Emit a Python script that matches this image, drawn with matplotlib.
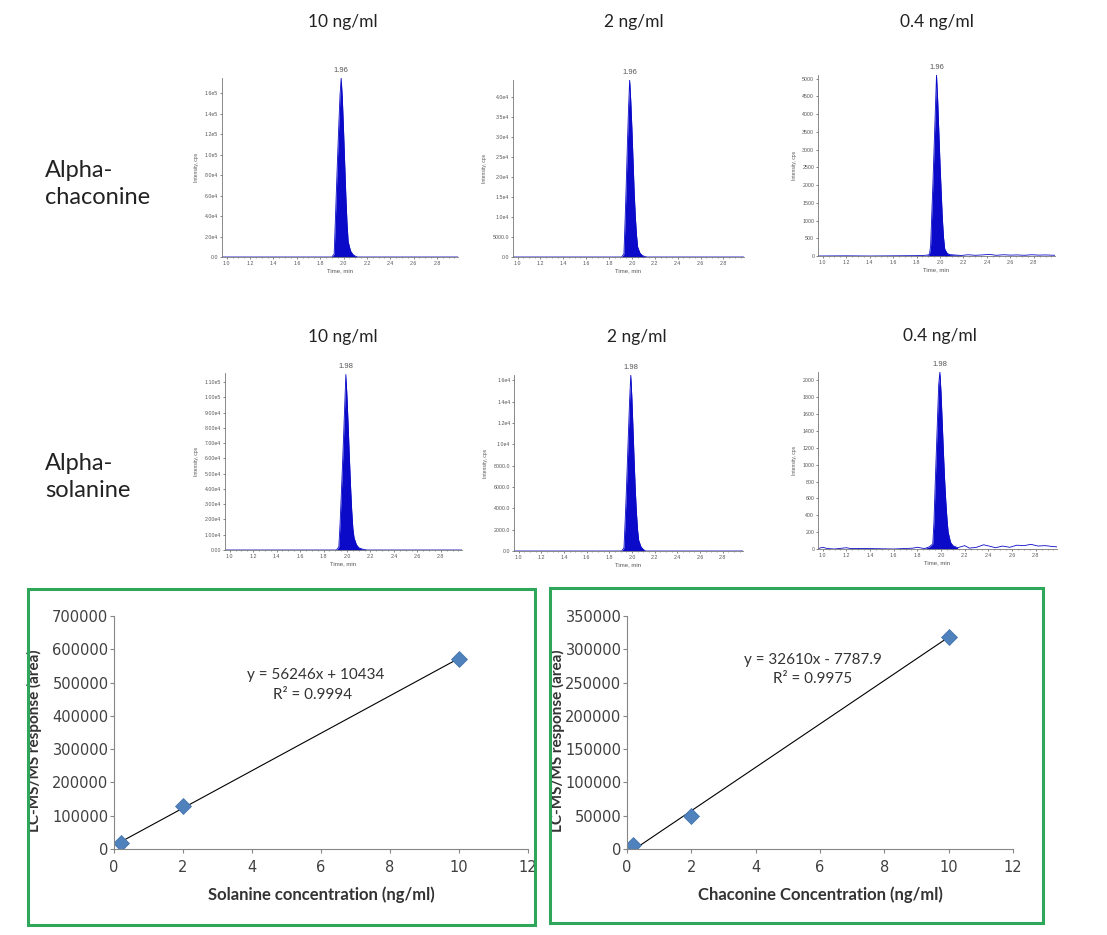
import numpy as np
import matplotlib
matplotlib.use("Agg")
import matplotlib.pyplot as plt
from matplotlib.patches import Rectangle
from matplotlib.ticker import FixedLocator, FixedFormatter, MultipleLocator

# ---- data -------------------------------------------------------------
conc_labels = ["10 ng/ml", "2 ng/ml", "0.4 ng/ml"]
row_labels = ["Alpha-\nchaconine", "Alpha-\nsolanine"]
peak_labels = ["1.96", "1.98"]

# chromatograms (time in min, intensity in cps)
cha10_t = [0.96, 1.90, 1.92, 1.93, 1.94, 1.95, 1.96, 1.97, 1.98, 1.99, 2.00, 2.01, 2.02, 2.03, 2.04, 2.06, 2.08, 2.10, 2.12, 2.98]
cha10_y = [0, 0, 3000, 35000, 68000, 100000, 130000, 158000, 175000, 155000, 125000, 92000, 60000, 33000, 15000, 6000, 2500, 900, 0, 0]
cha2_t = [0.96, 1.91, 1.93, 1.94, 1.95, 1.96, 1.97, 1.98, 1.99, 2.00, 2.01, 2.02, 2.03, 2.04, 2.05, 2.07, 2.09, 2.11, 2.13, 2.98]
cha2_y = [0, 0, 800, 9000, 18000, 28000, 37000, 44300, 39000, 32000, 24000, 16000, 10000, 5500, 2500, 1000, 400, 150, 0, 0]
cha04_t = [0.96, 1.20, 1.40, 1.80, 1.88, 1.91, 1.92, 1.93, 1.94, 1.95, 1.96, 1.97, 1.98, 1.99, 2.00, 2.01, 2.02, 2.03, 2.04, 2.06,
           2.08, 2.12, 2.18, 2.24, 2.30, 2.36, 2.42, 2.48, 2.54, 2.60, 2.66, 2.72, 2.78, 2.84, 2.90, 2.98]
cha04_y = [0, 5, 0, 10, 20, 40, 300, 1200, 2100, 3100, 4100, 5100, 4400, 3500, 2600, 1800, 1050, 520, 200, 80,
           40, 30, 15, 35, 20, 30, 45, 20, 35, 25, 30, 20, 35, 25, 30, 20]
sol10_t = [0.96, 1.91, 1.93, 1.94, 1.95, 1.96, 1.97, 1.98, 1.99, 2.00, 2.01, 2.02, 2.03, 2.04, 2.05, 2.06, 2.08, 2.10, 2.13, 2.17, 2.98]
sol10_y = [0, 0, 2000, 16000, 34000, 53000, 73000, 94000, 115000, 100000, 81000, 61000, 42000, 26000, 14000, 8000, 3500, 1500, 600, 0, 0]
sol2_t = [0.96, 1.91, 1.93, 1.94, 1.95, 1.96, 1.97, 1.98, 1.99, 2.00, 2.01, 2.02, 2.03, 2.04, 2.05, 2.06, 2.08, 2.10, 2.12, 2.98]
sol2_y = [0, 0, 300, 2700, 5300, 8300, 11300, 14200, 16500, 14300, 11400, 8400, 5700, 3600, 2000, 1000, 400, 150, 0, 0]
sol04_t = [0.96, 1.00, 1.04, 1.10, 1.20, 1.24, 1.40, 1.60, 1.76, 1.80, 1.86, 1.90, 1.93, 1.94, 1.95, 1.96, 1.97, 1.98, 1.99, 2.00,
           2.01, 2.02, 2.03, 2.04, 2.05, 2.06, 2.08, 2.10, 2.14, 2.20, 2.24, 2.30, 2.36, 2.42, 2.46, 2.52, 2.58, 2.64, 2.70,
           2.76, 2.82, 2.88, 2.94, 2.98]
sol04_y = [5, 20, 5, 0, 15, 5, 5, 0, 10, 20, 5, 25, 60, 320, 750, 1150, 1550, 1950, 2100, 1850,
           1500, 1150, 830, 570, 360, 200, 80, 40, 15, 40, 10, 20, 50, 30, 15, 35, 20, 45, 40,
           55, 35, 40, 30, 25]

chrom_t = [[cha10_t, cha2_t, cha04_t], [sol10_t, sol2_t, sol04_t]]
chrom_y = [[cha10_y, cha2_y, cha04_y], [sol10_y, sol2_y, sol04_y]]
chrom_ymax = [[175000, 44300, 5100], [116000, 16500, 2100]]

x_ticks = [1.0, 1.2, 1.4, 1.6, 1.8, 2.0, 2.2, 2.4, 2.6, 2.8]
y_ticks = [
    [[0, 2e4, 4e4, 6e4, 8e4, 1e5, 1.2e5, 1.4e5, 1.6e5],
     [0, 5000, 1e4, 1.5e4, 2e4, 2.5e4, 3e4, 3.5e4, 4e4],
     [0, 500, 1000, 1500, 2000, 2500, 3000, 3500, 4000, 4500, 5000]],
    [[0, 1e4, 2e4, 3e4, 4e4, 5e4, 6e4, 7e4, 8e4, 9e4, 1e5, 1.1e5],
     [0, 2000, 4000, 6000, 8000, 1e4, 1.2e4, 1.4e4, 1.6e4],
     [0, 200, 400, 600, 800, 1000, 1200, 1400, 1600, 1800, 2000]],
]
y_tick_labels = [
    [["0.0", "2.0e4", "4.0e4", "6.0e4", "8.0e4", "1.0e5", "1.2e5", "1.4e5", "1.6e5"],
     ["0.0", "5000.0", "1.0e4", "1.5e4", "2.0e4", "2.5e4", "3.0e4", "3.5e4", "4.0e4"],
     ["0", "500", "1000", "1500", "2000", "2500", "3000", "3500", "4000", "4500", "5000"]],
    [["0.00", "1.00e4", "2.00e4", "3.00e4", "4.00e4", "5.00e4", "6.00e4", "7.00e4", "8.00e4", "9.00e4", "1.00e5", "1.10e5"],
     ["0.0", "2000.0", "4000.0", "6000.0", "8000.0", "1.0e4", "1.2e4", "1.4e4", "1.6e4"],
     ["0", "200", "400", "600", "800", "1000", "1200", "1400", "1600", "1800", "2000"]],
]

# calibration curves
sol_conc = [0.2, 2, 10]
sol_area = [18000, 130000, 570000]
sol_fit = (56246, 10434)
cha_conc = [0.2, 2, 10]
cha_area = [6500, 49000, 318000]
cha_fit = (32610, -7787.9)

# ---- layout helpers --------------------------------------------------
W, H = 1107, 935
fig = plt.figure(figsize=(W / 100, H / 100), dpi=100)


def px_axes(left, top, right, bottom):
    return fig.add_axes([left / W, 1 - bottom / H, (right - left) / W, (bottom - top) / H])


chrom_boxes = [
    [(222, 78, 458, 257), (513, 80, 744, 257), (818, 75, 1055, 256)],
    [(225, 373, 462, 550), (514, 375, 743, 551), (818, 372, 1057, 549)],
]
title_pos = [[(343, 22), (634, 22), (937, 22)], [(343, 337), (637, 337), (940, 336)]]
row_label_pos = [(45, 184), (45, 477)]

blue = "#0a0ac8"
grey = "#555555"
small = ["Liberation Sans", "DejaVu Sans"]

for r in range(2):
    fig.text(row_label_pos[r][0] / W, 1 - row_label_pos[r][1] / H, row_labels[r],
             fontsize=17, family="Lato", va="center", ha="left", linespacing=1.35, color="#222222")
    for c in range(3):
        tx, ty = title_pos[r][c]
        fig.text(tx / W, 1 - ty / H, conc_labels[c], fontsize=12.5, family="Lato",
                 ha="center", va="center", color="#222222")

        ax = px_axes(*chrom_boxes[r][c])
        t = np.array(chrom_t[r][c])
        y = np.array(chrom_y[r][c])
        ax.fill_between(t, y, where=(t > 1.88) & (t < 2.2), color=blue, lw=0, interpolate=True)
        ax.plot(t, y, color=blue, lw=0.6)
        ax.set_xlim(0.96, 2.98)
        ax.set_ylim(0, chrom_ymax[r][c])
        ax.xaxis.set_major_locator(FixedLocator(x_ticks))
        ax.xaxis.set_minor_locator(MultipleLocator(0.05))
        ax.yaxis.set_major_locator(FixedLocator(y_ticks[r][c]))
        ax.yaxis.set_major_formatter(FixedFormatter(y_tick_labels[r][c]))
        ax.set_xticklabels([f"{v:.1f}" for v in x_ticks])
        for s in ["top", "right"]:
            ax.spines[s].set_visible(False)
        for s in ["left", "bottom"]:
            ax.spines[s].set_color("#777777")
            ax.spines[s].set_linewidth(0.6)
        ax.tick_params(labelsize=3.8, length=1.5, width=0.5, colors=grey, pad=1.2)
        ax.tick_params(which="minor", length=1.0, width=0.4, colors=grey)
        for lab in ax.get_xticklabels() + ax.get_yticklabels():
            lab.set_family(small)
        ax.set_xlabel("Time, min", fontsize=4.3, color=grey, family=small, labelpad=1.5)
        ax.set_ylabel("Intensity, cps", fontsize=3.6, color=grey, family=small, labelpad=4)
        ipk = int(np.argmax(y))
        ax.annotate(peak_labels[r], (t[ipk], y[ipk]), xytext=(0, 3), textcoords="offset points",
                    ha="center", va="bottom", fontsize=5.5, color=grey, family=small,
                    annotation_clip=False)

# ---- calibration curves ------------------------------------------------
green = "#2fa75a"
for (l, tp, rt, bt) in [(28, 589, 535, 925), (550, 588, 1043, 923)]:
    fig.patches.append(Rectangle((l / W, 1 - bt / H), (rt - l) / W, (bt - tp) / H,
                                 transform=fig.transFigure, fill=False, ec=green, lw=2.2))

calib = [
    dict(box=(114, 616, 528, 849), x=sol_conc, y=sol_area, fit=sol_fit, ymax=700000, ystep=100000,
         xlabel="Solanine concentration (ng/ml)", eq="y = 56246x + 10434", r2="R² = 0.9994",
         eq_pos=(0.486, 0.747), r2_pos=(0.48, 0.661), ylab_x=-0.191),
    dict(box=(627, 616, 1013, 849), x=cha_conc, y=cha_area, fit=cha_fit, ymax=350000, ystep=50000,
         xlabel="Chaconine Concentration (ng/ml)", eq="y = 32610x - 7787.9", r2="R² = 0.9975",
         eq_pos=(0.482, 0.811), r2_pos=(0.482, 0.73), ylab_x=-0.179),
]

for cfg in calib:
    ax = px_axes(*cfg["box"])
    xs = np.array([min(cfg["x"]), max(cfg["x"])])
    ax.plot(xs, cfg["fit"][0] * xs + cfg["fit"][1], color="black", lw=0.8)
    ax.plot(cfg["x"], cfg["y"], ls="none", marker="D", ms=8, color="#4f81bd", mec="#3f6fa8", mew=0.5)
    ax.set_xlim(0, 12)
    ax.set_ylim(0, cfg["ymax"])
    ax.xaxis.set_major_locator(MultipleLocator(2))
    ax.yaxis.set_major_locator(MultipleLocator(cfg["ystep"]))
    ax.yaxis.set_major_formatter(plt.FuncFormatter(lambda v, p: f"{int(v)}"))
    for s in ["top", "right"]:
        ax.spines[s].set_visible(False)
    for s in ["left", "bottom"]:
        ax.spines[s].set_color("#868686")
        ax.spines[s].set_linewidth(0.8)
    ax.tick_params(labelsize=10.5, length=3, width=0.8, color="#868686", labelcolor="#404040", pad=1)
    ax.tick_params(axis="x", pad=5)
    for lab in ax.get_xticklabels() + ax.get_yticklabels():
        lab.set_family("DejaVu Sans")
    ax.set_xlabel(cfg["xlabel"], fontsize=12, family="Lato", fontweight="bold", color="#333333")
    ax.xaxis.set_label_coords(0.5, -0.197)
    ax.xaxis.label.set_va("center")
    ax.set_ylabel("LC-MS/MS response (area)", fontsize=11, family="Lato", fontweight="bold", color="#333333")
    ax.yaxis.set_label_coords(cfg["ylab_x"], 0.464)
    ax.yaxis.label.set_va("center")
    ax.text(*cfg["eq_pos"], cfg["eq"], transform=ax.transAxes, ha="center", va="center",
            fontsize=11, family="Lato", color="#333333")
    ax.text(*cfg["r2_pos"], cfg["r2"], transform=ax.transAxes, ha="center", va="center",
            fontsize=11, family="Lato", color="#333333")

fig.savefig("out.png", dpi=100, facecolor="white")
